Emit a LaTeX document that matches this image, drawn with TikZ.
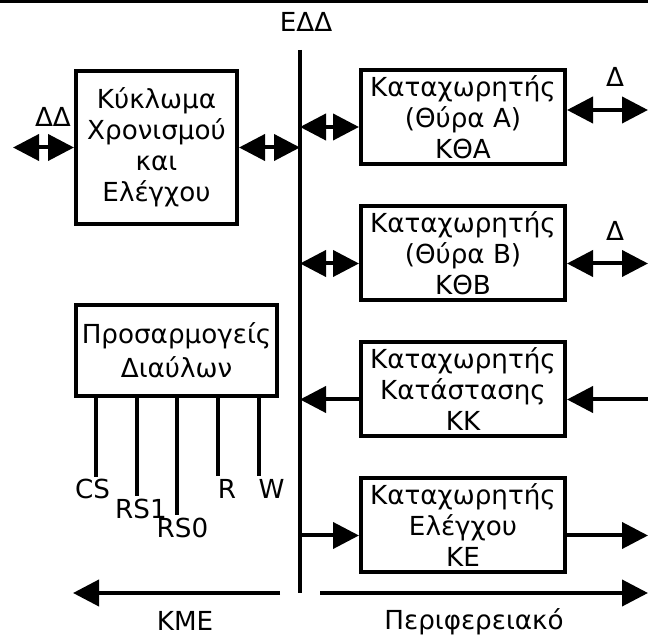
\documentclass[tikz,border=0pt]{standalone}
\usepackage{fontspec}
\setmainfont{DejaVu Sans}
\usetikzlibrary{positioning,arrows.meta}

\tikzset{
  regbox/.style={draw, rectangle, line width=2pt, align=center, minimum width=102pt, minimum height=47pt, inner sep=2pt},
  wire/.style={line width=2pt},
}

\begin{document}
\begin{tikzpicture}[x=0.5pt, y=-0.5pt, node distance=19pt,
    >={Triangle[length=13pt,width=13pt]},
    every node/.style={font=\fontsize{13.1}{15.5}\selectfont}]
    \useasboundingbox (0,0) rectangle (648,635);
    \fill (0,0) rectangle (648,3);

    % blocks
    \node[regbox, minimum width=80.5pt, minimum height=76.5pt] (kyk) at (156.5,147.5) {Κύκλωμα\\Χρονισμού\\και\\Ελέγχου};
    \node[regbox] (ktha) at (463,117.5) {Καταχωρητής\\(Θύρα Α)\\ΚΘΑ};
    \node[regbox, below=of ktha] (kthb) {Καταχωρητής\\(Θύρα Β)\\ΚΘΒ};
    \node[regbox, below=of kthb] (kk) {Καταχωρητής\\Κατάστασης\\ΚΚ};
    \node[regbox, below=of kk] (ke) {Καταχωρητής\\Ελέγχου\\ΚΕ};
    \node[regbox, minimum width=100.5pt, minimum height=45.5pt, font=\fontsize{13.1}{17}\selectfont] (pros) at (176.5,350.5) {Προσαρμογείς\\Διαύλων};

    % data bus
    \coordinate (bustop) at (300,50);
    \coordinate (busbot) at (300,593);
    \coordinate (rim) at (648,0);
    \draw[wire] (bustop) -- (busbot);
    \node[anchor=base] (edd) at (306,32) {ΕΔΔ};

    % timing and control
    \coordinate (ddend) at (13,147.5);
    \draw[wire, <->] (ddend) -- (kyk.west);
    \node[anchor=base] (dd) at (53,127) {ΔΔ};
    \draw[wire, <->] (kyk.east) -- (kyk.east -| bustop);

    % port registers
    \coordinate (kaw) at ([yshift=-4.75pt]ktha.west);
    \coordinate (kae) at ([yshift=3.75pt]ktha.east);
    \draw[wire, <->] (bustop |- kaw) -- (kaw);
    \draw[wire, <->] (kae) -- (kae -| rim);
    \node[anchor=base] (da) at (615,87) {Δ};

    \coordinate (kbw) at ([yshift=-5pt]kthb.west);
    \coordinate (kbe) at ([yshift=-5pt]kthb.east);
    \draw[wire, <->] (bustop |- kbw) -- (kbw);
    \draw[wire, <->] (kbe) -- (kbe -| rim);
    \node[anchor=base] (db) at (615,241) {Δ};

    \coordinate (kkw) at ([yshift=-5pt]kk.west);
    \coordinate (kke) at ([yshift=-5pt]kk.east);
    \draw[wire, ->] (kkw) -- (bustop |- kkw);
    \draw[wire, ->] (kke -| rim) -- (kke);

    \coordinate (kew) at ([yshift=-5pt]ke.west);
    \coordinate (kee) at ([yshift=-5pt]ke.east);
    \draw[wire, ->] (bustop |- kew) -- (kew);
    \draw[wire, ->] (kee) -- (kee -| rim);

    % bus signals
    \foreach \sx/\sy/\sname/\lx/\ly in {96/477/CS/92.5/479, 137/496/RS1/141/499, 177/515/RS0/182.5/518, 218/476/R/227/479, 259/476/W/271.5/479}{
        \draw[wire] (\sx,0 |- pros.south) -- (\sx,\sy);
        \node[anchor=north, inner sep=0pt] (sig\sname) at (\lx,\ly) {\sname};
    }

    % sides
    \coordinate (kmefrom) at (280,593);
    \coordinate (kmeto) at (73,593);
    \coordinate (perfrom) at (320,593);
    \draw[wire, ->] (kmefrom) -- (kmeto);
    \draw[wire, ->] (perfrom) -- (perfrom -| rim);
    \node[anchor=base] (kme) at (185,631) {ΚΜΕ};
    \node[anchor=base] (per) at (474,630) {Περιφερειακό};
\end{tikzpicture}
\end{document}
